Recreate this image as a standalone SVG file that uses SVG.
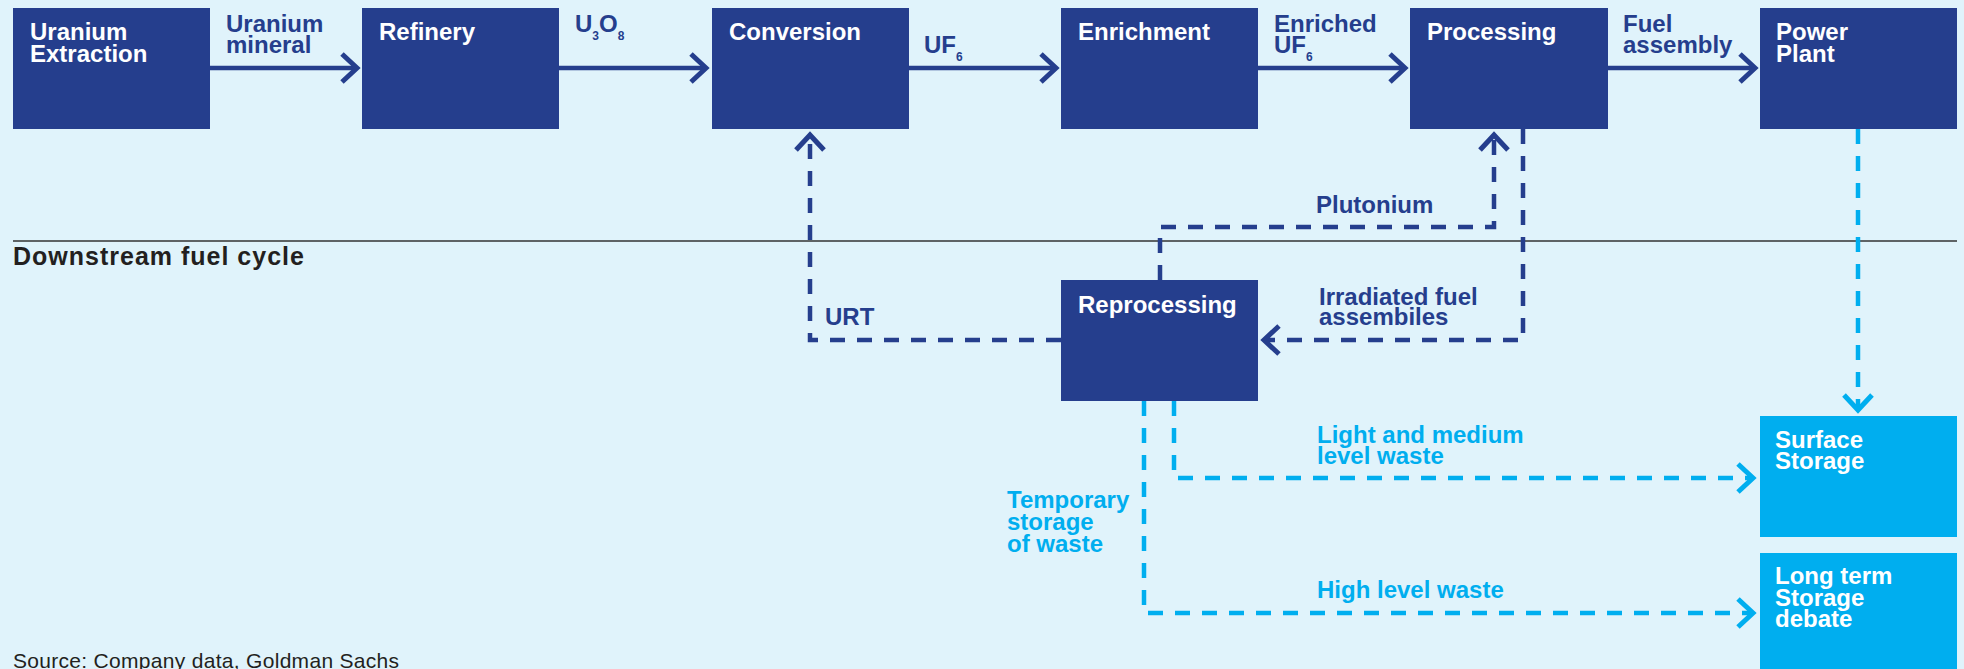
<svg xmlns="http://www.w3.org/2000/svg" width="1964" height="669" viewBox="0 0 1964 669">
<style>
  text { font-family: "Liberation Sans", Arial, sans-serif; font-weight: bold; font-size: 24px; }
  .nav { fill: #253e8d; }
  .cyn { fill: #00aeef; }
  .nt { fill: #ffffff; }
  .el { fill: #253e8d; }
  .elb { fill: #00aeef; }
  .sub { font-size: 12px; }
  .solid { stroke: #253e8d; stroke-width: 4.5; fill: none; marker-end: url(#ahN); }
  .dashN { stroke: #253e8d; stroke-width: 4.5; fill: none; stroke-dasharray: 15 12; marker-end: url(#ahN); }
  .dashB { stroke: #00aeef; stroke-width: 4.5; fill: none; stroke-dasharray: 15 12; marker-end: url(#ahB); }
</style>
<defs>
  <marker id="ahN" markerUnits="userSpaceOnUse" viewBox="-25 -25 35 50" refX="0" refY="0" markerWidth="35" markerHeight="50" orient="auto" overflow="visible">
    <path d="M-15,-14 L0,0 L-15,14" fill="none" stroke="#253e8d" stroke-width="5" stroke-dasharray="none"/>
  </marker>
  <marker id="ahB" markerUnits="userSpaceOnUse" viewBox="-25 -25 35 50" refX="0" refY="0" markerWidth="35" markerHeight="50" orient="auto" overflow="visible">
    <path d="M-15,-14 L0,0 L-15,14" fill="none" stroke="#00aeef" stroke-width="5" stroke-dasharray="none"/>
  </marker>
</defs>
<rect x="0" y="0" width="1964" height="669" fill="#e0f3fb"/>

<line x1="13" y1="241" x2="1957" y2="241" stroke="#333333" stroke-width="1.5"/>
<text x="13" y="265" fill="#231f20" style="font-size:25px; letter-spacing:1px">Downstream fuel cycle</text>

<g id="connectors">
  <path class="solid" d="M210,68 H357"/>
  <path class="solid" d="M559,68 H706"/>
  <path class="solid" d="M909,68 H1056"/>
  <path class="solid" d="M1258,68 H1405"/>
  <path class="solid" d="M1608,68 H1755"/>
  <path class="dashN" d="M1061,340 H810 V135"/>
  <path class="dashN" d="M1160,280 V227 H1494 V135"/>
  <path class="dashN" d="M1523,129 V340 H1264"/>
  <path class="dashB" d="M1858,129 V410"/>
  <path class="dashB" d="M1174,401 V478 H1753"/>
  <path class="dashB" d="M1144,401 V613 H1753"/>
  <text class="el" x="226" y="32">Uranium<tspan x="226" dy="21">mineral</tspan></text>
  <text class="el" x="575" y="32">U<tspan class="sub" dy="8">3</tspan><tspan dy="-8">O</tspan><tspan class="sub" dy="8">8</tspan></text>
  <text class="el" x="924" y="53">UF<tspan class="sub" dy="8">6</tspan></text>
  <text class="el" x="1274" y="32">Enriched<tspan x="1274" dy="21">UF</tspan><tspan class="sub" dy="8">6</tspan></text>
  <text class="el" x="1623" y="32">Fuel<tspan x="1623" dy="21">assembly</tspan></text>
  <text class="el" x="825" y="325">URT</text>
  <text class="el" x="1316" y="213">Plutonium</text>
  <text class="el" x="1319" y="305">Irradiated fuel<tspan x="1319" dy="20">assembiles</tspan></text>
  <text class="elb" x="1317" y="443">Light and medium<tspan x="1317" dy="21">level waste</tspan></text>
  <text class="elb" x="1317" y="598">High level waste</text>
  <text class="elb" x="1007" y="508">Temporary<tspan x="1007" dy="22">storage</tspan><tspan x="1007" dy="22">of waste</tspan></text>
</g>

<g id="node-extraction">
  <rect class="nav" x="13" y="8" width="197" height="121"/>
  <text class="nt" x="30" y="40">Uranium<tspan x="30" dy="22">Extraction</tspan></text>
</g>
<g id="node-refinery">
  <rect class="nav" x="362" y="8" width="197" height="121"/>
  <text class="nt" x="379" y="40">Refinery</text>
</g>
<g id="node-conversion">
  <rect class="nav" x="712" y="8" width="197" height="121"/>
  <text class="nt" x="729" y="40">Conversion</text>
</g>
<g id="node-enrichment">
  <rect class="nav" x="1061" y="8" width="197" height="121"/>
  <text class="nt" x="1078" y="40">Enrichment</text>
</g>
<g id="node-processing">
  <rect class="nav" x="1410" y="8" width="198" height="121"/>
  <text class="nt" x="1427" y="40">Processing</text>
</g>
<g id="node-powerplant">
  <rect class="nav" x="1760" y="8" width="197" height="121"/>
  <text class="nt" x="1776" y="40">Power<tspan x="1776" dy="22">Plant</tspan></text>
</g>
<g id="node-reprocessing">
  <rect class="nav" x="1061" y="280" width="197" height="121"/>
  <text class="nt" x="1078" y="313">Reprocessing</text>
</g>
<g id="node-surface">
  <rect class="cyn" x="1760" y="416" width="197" height="121"/>
  <text class="nt" x="1775" y="448">Surface<tspan x="1775" dy="21">Storage</tspan></text>
</g>
<g id="node-longterm">
  <rect class="cyn" x="1760" y="553" width="197" height="130"/>
  <text class="nt" x="1775" y="584">Long term<tspan x="1775" dy="22">Storage</tspan><tspan x="1775" dy="21">debate</tspan></text>
</g>

<text x="13" y="668" fill="#231f20" style="font-weight:normal; font-size:21px; letter-spacing:0.3px">Source: Company data, Goldman Sachs</text>
</svg>
